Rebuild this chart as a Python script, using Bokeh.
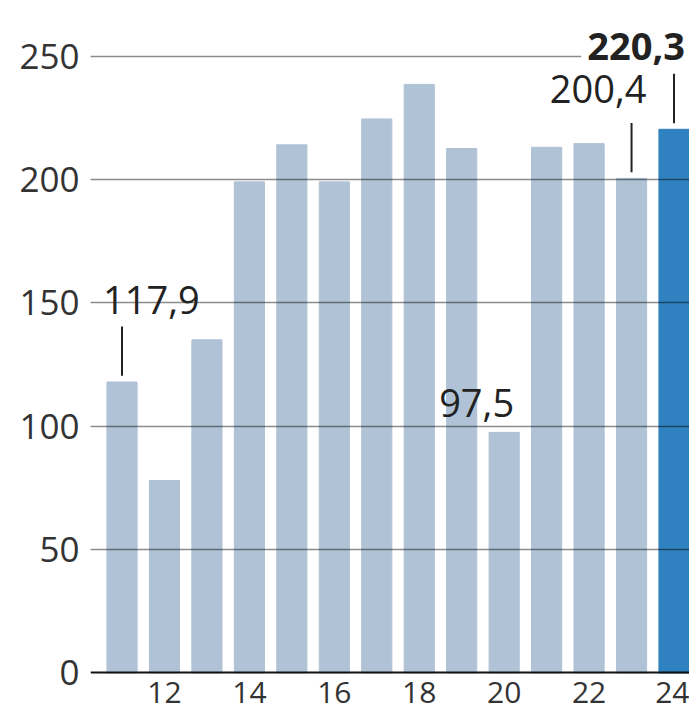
from bokeh.plotting import figure
from bokeh.models import Range1d, FixedTicker, Label, ColumnDataSource
from bokeh.embed import file_html
from bokeh.resources import INLINE

# ---- data ----
years = [2011, 2012, 2013, 2014, 2015, 2016, 2017, 2018, 2019, 2020, 2021, 2022, 2023, 2024]
values = [117.9, 78.0, 135.0, 199.0, 214.0, 199.0, 224.5, 238.5, 212.5, 97.5, 213.0, 214.5, 200.4, 220.3]
x_tick_values = [2012, 2014, 2016, 2018, 2020, 2022, 2024]
x_tick_labels = ["12", "14", "16", "18", "20", "22", "24"]
y_tick_values = [0, 50, 100, 150, 200, 250]
highlight_year = 2024
callout_years = [2011, 2020, 2023, 2024]
callout_texts = ["117,9", "97,5", "200,4", "220,3"]
leader_years = [2011, 2023, 2024]

LIGHT = "#afc2d6"
DARK = "#2f81bf"
TEXT = "#222222"
FONT = "Open Sans"

colors = [DARK if y == highlight_year else LIGHT for y in years]
src = ColumnDataSource(dict(x=years, top=values, color=colors))

p = figure(width=689, height=709, output_backend="svg", toolbar_location=None,
           x_range=Range1d(2010.258, 2024.365), y_range=Range1d(-14.79, 272.49),
           min_border_left=90, min_border_right=0, min_border_top=0, min_border_bottom=0)
p.outline_line_color = None
p.background_fill_color = "white"
p.border_fill_color = "white"

p.vbar(x="x", top="top", bottom=0, width=0.71, color="color", source=src)

# leader lines
vmap = dict(zip(years, values))
p.segment(x0=leader_years, x1=leader_years,
          y0=[vmap[y] + 2.5 for y in leader_years],
          y1=[vmap[y] + 22.5 for y in leader_years],
          line_color=TEXT, line_width=2)

# axes
p.xaxis.fixed_location = 0
p.xaxis.ticker = FixedTicker(ticks=x_tick_values)
p.xaxis.major_label_overrides = dict(zip(x_tick_values, x_tick_labels))
p.xaxis.axis_line_color = "#111111"
p.xaxis.axis_line_width = 2
p.xaxis.major_tick_line_color = None
p.xaxis.minor_tick_line_color = None
p.xaxis.major_label_standoff = 3
p.xaxis.major_label_text_font = FONT
p.xaxis.major_label_text_font_size = "30px"
p.xaxis.major_label_text_color = "#333333"

p.yaxis.ticker = FixedTicker(ticks=y_tick_values)
p.yaxis.axis_line_color = None
p.yaxis.major_tick_line_color = None
p.yaxis.minor_tick_line_color = None
p.yaxis.major_label_standoff = 5
p.yaxis.major_label_text_font = FONT
p.yaxis.major_label_text_font_size = "35px"
p.yaxis.major_label_text_color = "#333333"

p.xgrid.visible = False
p.ygrid.ticker = FixedTicker(ticks=y_tick_values[1:])
p.ygrid.grid_line_color = "black"
p.ygrid.grid_line_alpha = 0.45
p.ygrid.grid_line_width = 1.5
p.ygrid.level = "guide"

# callout labels
offsets = {2011: (-19, 82, "left"), 2020: (10, 29, "right"),
           2023: (15, 89, "right"), 2024: (17, 83, "right")}
for yr, txt in zip(callout_years, callout_texts):
    dx, dy, align = offsets[yr]
    lab = Label(x=yr, y=vmap[yr], x_offset=dx, y_offset=dy, text=txt,
                text_align=align, text_baseline="alphabetic",
                text_font=FONT, text_font_size="38px", text_color=TEXT,
                text_font_style="bold" if yr == highlight_year else "normal")
    if yr == highlight_year:
        lab.background_fill_color = "white"
        lab.padding = 6
    p.add_layout(lab)

open("out.html", "w").write(file_html(p, INLINE))
